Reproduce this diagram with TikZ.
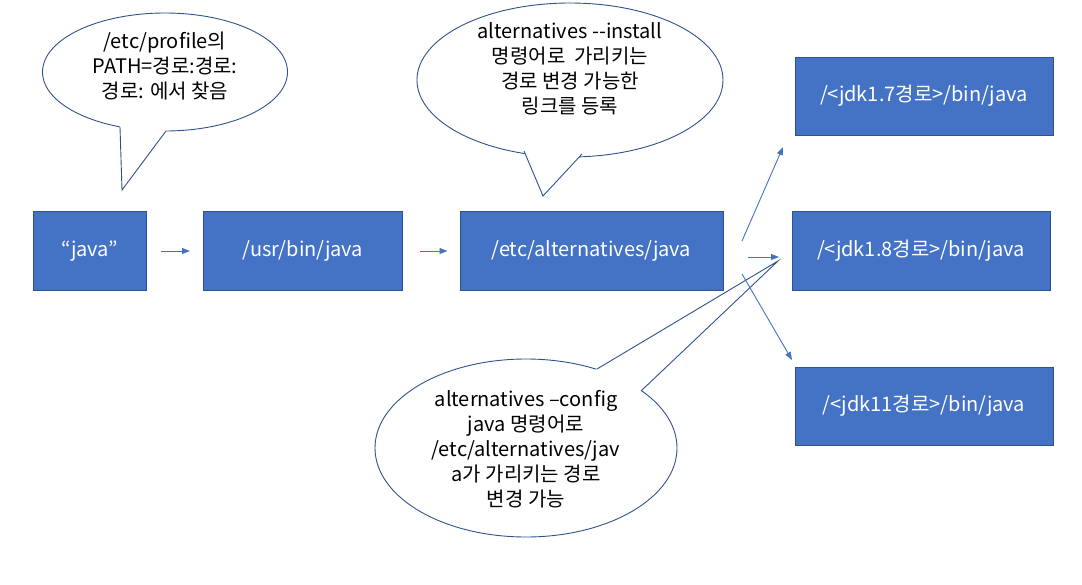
\documentclass[tikz,border=0pt]{standalone}
\usepackage{fontspec}
\setmainfont{Noto Sans CJK KR}
\usetikzlibrary{arrows.meta,shapes.geometric,calc}
\definecolor{boxfill}{HTML}{4472C4}
\definecolor{boxline}{HTML}{2F528F}
\begin{document}
\begin{tikzpicture}[x=1pt,y=-1pt,
  bx/.style={draw=boxline, fill=boxfill, line width=1pt, text=white,
    font=\fontsize{20}{24}\selectfont, inner sep=0pt},
  arr/.style={draw=boxfill, line width=0.9pt, -{Triangle[length=8pt,width=6pt]}},
  bubble/.style={ellipse, draw=boxline, fill=white, line width=0.9pt, inner sep=0pt},
  ctext/.style={align=center, font=\fontsize{20}{25}\selectfont, inner sep=0pt},
  cline/.style={draw=boxline, line width=0.9pt, line join=miter}]
\useasboundingbox (0,0) rectangle (1082,584);

% boxes
\node[bx, minimum width=113pt, minimum height=79pt] (java) at (90,251) {“java”};
\node[bx, minimum width=199pt, minimum height=79pt] (usr) at (303,251) {/usr/bin/java};
\node[bx, minimum width=263pt, minimum height=79pt] (etc) at (591.5,251) {/etc/alternatives/java};
\node[bx, minimum width=258pt, minimum height=78pt] (j17) at (924,96) {/<jdk1.7경로>/bin/java};
\node[bx, minimum width=258pt, minimum height=79pt] (j18) at (921,251) {/<jdk1.8경로>/bin/java};
\node[bx, minimum width=258pt, minimum height=78pt] (j11) at (924,406) {/<jdk11경로>/bin/java};

% callout 1
\node[bubble, minimum width=245pt, minimum height=118pt] (c1) at (165,72) {};
\coordinate (c1a) at (120,127);
\coordinate (c1b) at (166,131);
\coordinate (c1t) at (122,190);
\fill[white] ($(c1t)!1.12!(c1a)$) -- (c1t) -- ($(c1t)!1.12!(c1b)$) -- cycle;
\draw[cline] (c1a) -- (c1t) -- (c1b);
\node[ctext] (t1) at (165,66) {/etc/profile의\\PATH=경로:경로:\\경로: 에서 찾음};

% callout 2
\node[bubble, minimum width=306pt, minimum height=154pt] (c2) at (570,80) {};
\coordinate (c2a) at (524,151);
\coordinate (c2b) at (582,154);
\coordinate (c2t) at (543,196);
\fill[white] ($(c2t)!1.12!(c2a)$) -- (c2t) -- ($(c2t)!1.12!(c2b)$) -- cycle;
\draw[cline] (c2a) -- (c2t) -- (c2b);
\node[ctext] (t2) at (570,69) {alternatives -{}-install\\명령어로\ \ 가리키는\\경로 변경 가능한\\링크를 등록};

% callout 3
\node[bubble, minimum width=302pt, minimum height=178pt] (c3) at (526,448) {};
\coordinate (c3a) at (597,369);
\coordinate (c3b) at (641,391);
\coordinate (c3t) at (778,261);
\fill[white] ($(c3t)!1.04!(c3a)$) -- (c3t) -- ($(c3t)!1.04!(c3b)$) -- cycle;
\draw[cline] (c3a) -- (c3t) -- (c3b);
\node[ctext] (t3) at (526,449) {alternatives –config\\java 명령어로\\/etc/alternatives/jav\\a가 가리키는 경로\\변경 가능};

% arrows
\draw[arr, shorten <=14pt, shorten >=13pt] (java.east) -- (usr.west);
\draw[arr, shorten <=17pt, shorten >=12pt] (usr.east) -- (etc.west);
\coordinate (f1s) at (742,241);
\coordinate (f1e) at (783,147);
\coordinate (f2s) at (748,257);
\coordinate (f2e) at (779,257);
\coordinate (f3s) at (742,274);
\coordinate (f3e) at (792,360);
\draw[arr] (f1s) -- (f1e);
\draw[arr] (f2s) -- (f2e);
\draw[arr] (f3s) -- (f3e);
\end{tikzpicture}
\end{document}
